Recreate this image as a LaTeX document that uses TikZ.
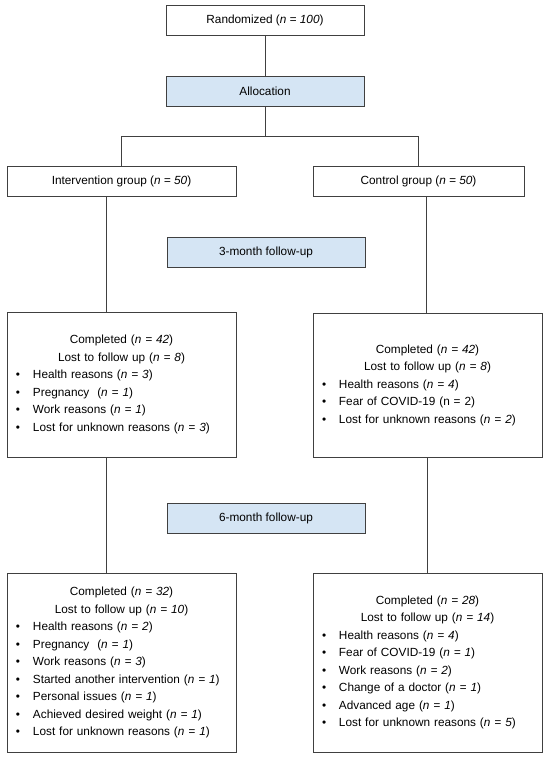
\documentclass[tikz,border=0pt]{standalone}
\usepackage{fontspec}
\setmainfont{Liberation Sans}
\usetikzlibrary{calc}
\definecolor{stagefill}{HTML}{D5E5F4}
\definecolor{boxline}{HTML}{404040}
\newcommand{\nval}[1]{(\textit{n = #1})}
\newcommand{\why}[1]{\hspace*{9pt}\makebox[17pt][l]{\textbullet}#1\par}
\newcommand{\head}[1]{{\centering #1\par}}

\begin{document}
\begin{tikzpicture}[x=1pt,y=-1pt,line width=0.8pt]
	\tikzset{box/.style={draw=boxline, inner sep=0pt, minimum height=30pt, font=\fontsize{11.8}{14}\selectfont},
		stage/.style={box, fill=stagefill, minimum width=198pt},
		listbox/.style={draw=boxline, inner sep=0pt, text width=229pt, align=left, font=\fontsize{11.8}{17.5}\selectfont}};
	\useasboundingbox (0,0) rectangle (550,759);
	
	\node[box, minimum width=198pt] (rand) at (265,20) {Randomized \nval{100}};
	\node[stage] (alloc) at (265,91) {Allocation};
	\node[box, minimum width=229pt] (int) at (121.5,181) {Intervention group \nval{50}};
	\node[box, minimum width=211pt] (ctrl) at (418.5,181) {Control group \nval{50}};
	\node[stage] (fu3) at (266,252) {3-month follow-up};
	\node[stage] (fu6) at (266,518) {6-month follow-up};
	
	\node[listbox, minimum height=145pt] (int3) at (121.5,384.5) {%
		\head{Completed \nval{42}}
		\head{Lost to follow up \nval{8}}
		\why{Health reasons \nval{3}}
		\why{Pregnancy\ \ \nval{1}}
		\why{Work reasons \nval{1}}
		\why{Lost for unknown reasons \nval{3}}};
	\node[listbox, minimum height=144pt] (ctrl3) at (427.5,385) {%
		\head{Completed \nval{42}}
		\head{Lost to follow up \nval{8}}
		\why{Health reasons \nval{4}}
		\why{Fear of COVID-19 (n = 2)}
		\why{Lost for unknown reasons \nval{2}}};
	\node[listbox, minimum height=179pt] (int6) at (121.5,662.5) {%
		\head{Completed \nval{32}}
		\head{Lost to follow up \nval{10}}
		\why{Health reasons \nval{2}}
		\why{Pregnancy\ \ \nval{1}}
		\why{Work reasons \nval{3}}
		\why{Started another intervention \nval{1}}
		\why{Personal issues \nval{1}}
		\why{Achieved desired weight \nval{1}}
		\why{Lost for unknown reasons \nval{1}}};
	\node[listbox, minimum height=179pt] (ctrl6) at (427.5,662.5) {%
		\head{Completed \nval{28}}
		\head{Lost to follow up \nval{14}}
		\why{Health reasons \nval{4}}
		\why{Fear of COVID-19 \nval{1}}
		\why{Work reasons \nval{2}}
		\why{Change of a doctor \nval{1}}
		\why{Advanced age \nval{1}}
		\why{Lost for unknown reasons \nval{5}}};
	
	\coordinate (split) at (265,136);
	\coordinate (ltrunk) at (106,0);
	\coordinate (rtrunk) at (426,0);
	
	\draw[boxline] (rand) -- (alloc);
	\draw[boxline] (alloc) -- (split);
	\draw[boxline] (split) -| (int.north);
	\draw[boxline] (split) -| (ctrl.north);
	\draw[boxline] (int.south -| ltrunk) -- (int3.north -| ltrunk);
	\draw[boxline] (ctrl.south -| rtrunk) -- (ctrl3.north -| rtrunk);
	\draw[boxline] (int3.south -| ltrunk) -- (int6.north -| ltrunk);
	\draw[boxline] (ctrl3) -- (ctrl6);
\end{tikzpicture}
\end{document}
